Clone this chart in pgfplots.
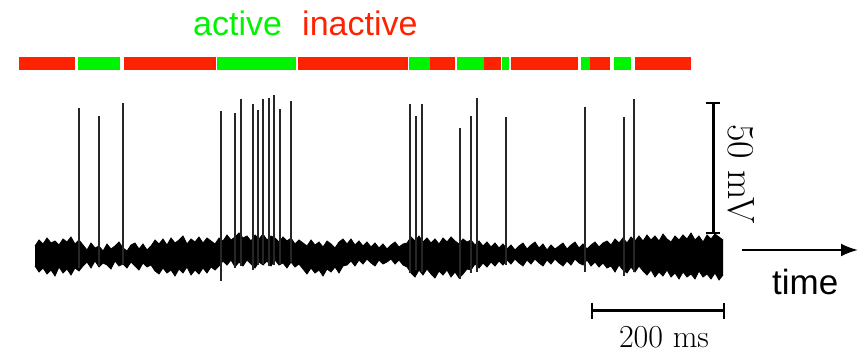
\documentclass[border=0pt]{standalone}
\usepackage{pgfplots}
\pgfplotsset{compat=1.18}
\usepackage{pgfplotstable}
\usepgfplotslibrary{fillbetween}
\usetikzlibrary{arrows.meta}
\usepackage{fontspec}
\newfontfamily\helv{Liberation Sans}
\definecolor{actgreen}{HTML}{00F400}
\definecolor{inred}{HTML}{FF2200}

% membrane potential trace: upper and lower edge of the noisy band (picture units)
\pgfplotstableread{
x top bot
35 246 266
39 240 272
43 244 268
47 238 274
51 243 270
55 241 276
59 245 267
63 239 273
67 242 269
71 237 275
75 244 268
79 240 271
83 245 266
87 250 262
91 243 268
95 248 261
99 246 267
103 251 263
107 244 265
111 249 269
115 246 261
119 242 266
123 248 264
127 251 268
131 245 262
135 243 266
139 249 270
143 244 263
147 250 267
151 246 265
155 240 271
159 244 274
163 239 268
167 245 273
171 238 270
175 243 276
179 240 269
183 236 273
187 244 267
191 239 275
195 242 270
199 237 274
203 243 268
207 238 273
211 241 267
215 244 270
219 238 266
223 241 261
227 235 265
231 240 260
235 237 267
239 233 262
243 238 266
247 236 260
251 241 264
255 235 268
259 239 262
263 234 265
267 240 261
271 236 266
275 238 260
279 242 265
283 237 263
287 241 268
291 238 262
295 244 267
299 240 264
303 243 269
307 246 274
311 240 268
315 245 273
319 242 270
323 247 276
327 241 269
331 244 272
335 248 267
339 242 273
343 239 266
347 244 265
351 239 261
355 245 266
359 241 260
363 246 264
367 242 259
371 247 263
375 243 266
379 248 260
383 244 264
387 249 262
391 245 259
395 242 264
399 247 260
403 244 265
407 243 267
411 237 273
415 241 277
419 236 270
423 242 275
427 238 269
431 243 274
435 239 278
439 244 271
443 238 275
447 242 270
451 237 277
455 241 272
459 244 278
463 239 274
467 242 269
471 240 270
475 245 264
479 241 268
483 246 263
487 242 267
491 247 262
495 243 266
499 248 261
503 244 265
507 249 260
511 245 264
515 250 259
519 246 263
523 243 266
527 249 260
531 245 264
535 242 259
539 248 263
543 244 266
547 250 260
551 245 264
555 249 259
559 246 263
563 243 266
567 249 261
571 245 265
575 242 259
579 248 263
583 244 265
587 249 260
591 245 266
595 242 262
599 247 267
603 243 263
607 241 268
611 245 266
615 239 272
619 243 265
623 238 270
627 243 273
631 237 267
635 241 272
639 236 266
643 241 271
647 235 275
651 240 270
655 236 277
659 241 272
663 234 276
667 239 270
671 242 277
675 236 273
679 240 279
683 235 272
687 239 277
691 233 274
695 240 279
699 236 271
703 242 277
707 235 274
711 239 279
715 234 273
719 237 280
723 240 275
}\trace

% action potentials: x, then lowest point and peak
\pgfplotstableread{
x y
79 268
79 108
79 nan
99 266
99 116
99 nan
123 264
123 103
123 nan
221 281
221 111
221 nan
235 268
235 113
235 nan
241 266
241 99
241 nan
253 270
253 104
253 nan
258 265
258 110
258 nan
263 264
263 99
263 nan
269 266
269 98
269 nan
274 265
274 95
274 nan
280 264
280 109
280 nan
291 262
291 101
291 nan
410 273
410 104
410 nan
416 270
416 116
416 nan
422 272
422 104
422 nan
460 279
460 128
460 nan
471 273
471 116
471 nan
477 272
477 98
477 nan
506 265
506 117
506 nan
585 272
585 107
585 nan
624 276
624 117
624 nan
634 272
634 99
}\spikes

\begin{document}
\begin{tikzpicture}
\begin{axis}[
  width=863bp, height=353bp, scale only axis,
  xmin=0, xmax=863, ymin=0, ymax=353,
  y dir=reverse, hide axis, clip=false,
  unbounded coords=jump,
]
\path (rel axis cs:0,0) rectangle (rel axis cs:1,1);

% state bar
\addplot[fill=inred, draw=none] coordinates {(19,57)(75,57)(75,70)(19,70)};
\addplot[fill=actgreen, draw=none] coordinates {(78,57)(120,57)(120,70)(78,70)};
\addplot[fill=inred, draw=none] coordinates {(124,57)(216,57)(216,70)(124,70)};
\addplot[fill=actgreen, draw=none] coordinates {(217,57)(296,57)(296,70)(217,70)};
\addplot[fill=inred, draw=none] coordinates {(298,57)(408,57)(408,70)(298,70)};
\addplot[fill=actgreen, draw=none] coordinates {(409,57)(430,57)(430,70)(409,70)};
\addplot[fill=inred, draw=none] coordinates {(430,57)(455,57)(455,70)(430,70)};
\addplot[fill=actgreen, draw=none] coordinates {(457,57)(484,57)(484,70)(457,70)};
\addplot[fill=inred, draw=none] coordinates {(484,57)(501,57)(501,70)(484,70)};
\addplot[fill=actgreen, draw=none] coordinates {(502,57)(509,57)(509,70)(502,70)};
\addplot[fill=inred, draw=none] coordinates {(511,57)(578,57)(578,70)(511,70)};
\addplot[fill=actgreen, draw=none] coordinates {(581,57)(590,57)(590,70)(581,70)};
\addplot[fill=inred, draw=none] coordinates {(590,57)(610,57)(610,70)(590,70)};
\addplot[fill=actgreen, draw=none] coordinates {(614,57)(631,57)(631,70)(614,70)};
\addplot[fill=inred, draw=none] coordinates {(635,57)(691,57)(691,70)(635,70)};

% noisy trace band
\addplot[black, line width=0.8bp, name path=U] table[x=x, y=top] {\trace};
\addplot[black, line width=0.8bp, name path=L] table[x=x, y=bot] {\trace};
\addplot[black] fill between[of=U and L];

% spikes
\addplot[black!85, line width=1.8bp] table[x=x, y=y] {\spikes};

% scale bars
\addplot[black, line width=3bp] coordinates {(713,103)(713,233)};
\addplot[black, line width=2.6bp] coordinates {(706,103)(720,103)};
\addplot[black, line width=2.6bp] coordinates {(706,233)(720,233)};
\addplot[black, line width=3bp] coordinates {(592,311)(724,311)};
\addplot[black, line width=2.6bp] coordinates {(592,303)(592,319)};
\addplot[black, line width=2.6bp] coordinates {(724,303)(724,319)};

% time arrow
\addplot[black, line width=2.2bp, -{Latex[length=17bp,width=13bp]}] coordinates {(742,250)(858,250)};

% texts
\node[anchor=base west, text=actgreen, font=\helv\fontsize{34bp}{40bp}\selectfont, inner sep=0pt] at (axis cs:193,36) {active};
\node[anchor=base west, text=inred, font=\helv\fontsize{34bp}{40bp}\selectfont, inner sep=0pt] at (axis cs:302,36) {inactive};
\node[anchor=base west, font=\helv\fontsize{35bp}{40bp}\selectfont, inner sep=0pt] at (axis cs:772,295) {time};
\node[rotate=-90, font=\fontsize{38bp}{44bp}\selectfont, inner sep=0pt] at (axis cs:741,174) {50~mV};
\node[anchor=base, font=\fontsize{32bp}{38bp}\selectfont, inner sep=0pt] at (axis cs:664,347) {200 ms};
\end{axis}
\end{tikzpicture}
\end{document}
